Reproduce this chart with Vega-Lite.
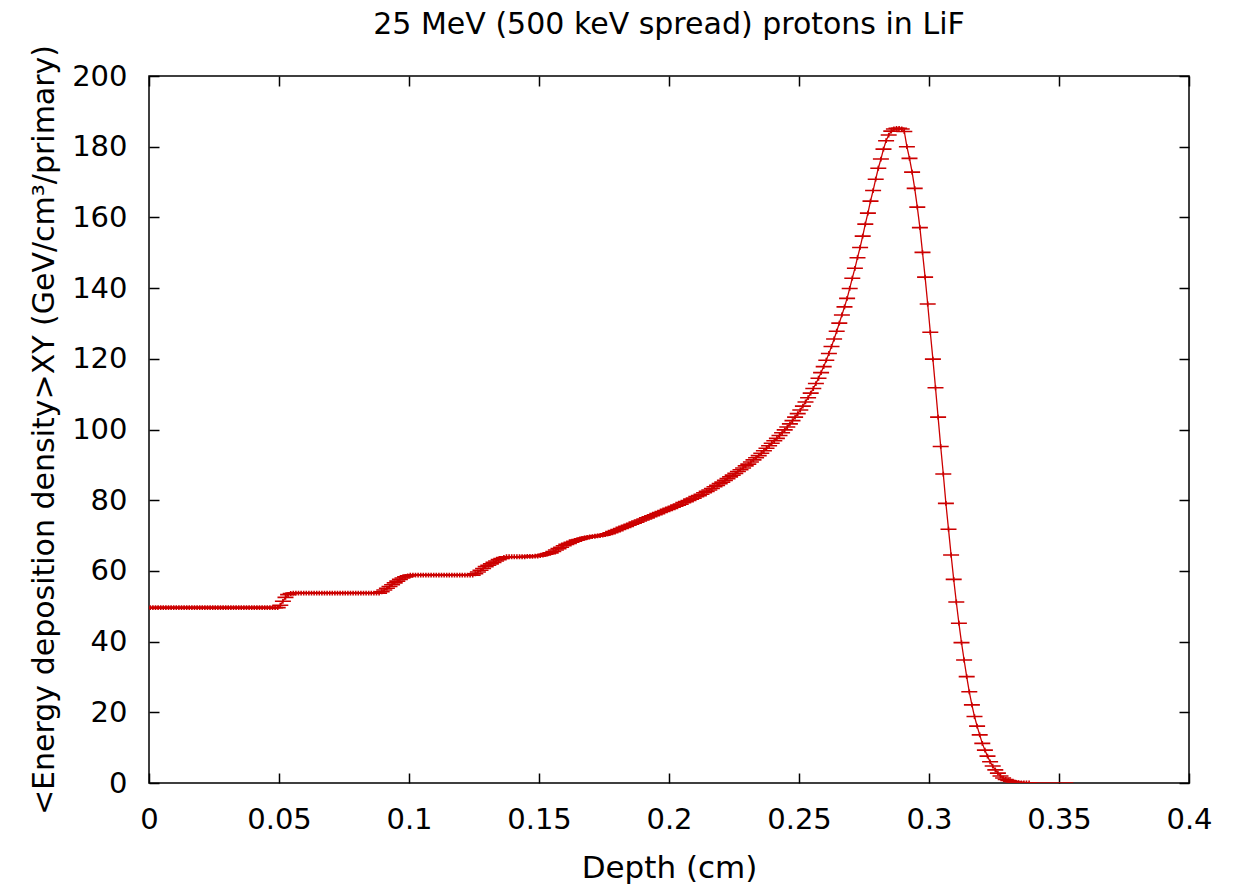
{
"$schema":"https://vega.github.io/schema/vega-lite/v6.json",
"width":1040,"height":707,
"autosize":{"type":"none"},
"padding":{"left":149,"top":76,"right":48,"bottom":107},
"background":"white",
"config":{"font":"DejaVu Sans","view":{"stroke":"black","strokeWidth":1.5}},
"title":{"text":"25 MeV (500 keV spread) protons in LiF","fontSize":30,"fontWeight":"normal","font":"DejaVu Sans","color":"black","anchor":"middle","baseline":"alphabetic","offset":-20},
"data":{"values":[
{"d":0.0005,"e":49.6},{"d":0.0015,"e":49.6},{"d":0.0025,"e":49.6},{"d":0.0035,"e":49.6},{"d":0.0045,"e":49.6},{"d":0.0055,"e":49.6},{"d":0.0065,"e":49.6},{"d":0.0075,"e":49.6},{"d":0.0085,"e":49.6},{"d":0.0095,"e":49.6},
{"d":0.0105,"e":49.6},{"d":0.0115,"e":49.6},{"d":0.0125,"e":49.6},{"d":0.0135,"e":49.6},{"d":0.0145,"e":49.6},{"d":0.0155,"e":49.6},{"d":0.0165,"e":49.6},{"d":0.0175,"e":49.6},{"d":0.0185,"e":49.6},{"d":0.0195,"e":49.6},
{"d":0.0205,"e":49.6},{"d":0.0215,"e":49.6},{"d":0.0225,"e":49.6},{"d":0.0235,"e":49.6},{"d":0.0245,"e":49.6},{"d":0.0255,"e":49.6},{"d":0.0265,"e":49.6},{"d":0.0275,"e":49.6},{"d":0.0285,"e":49.6},{"d":0.0295,"e":49.6},
{"d":0.0305,"e":49.6},{"d":0.0315,"e":49.6},{"d":0.0325,"e":49.6},{"d":0.0335,"e":49.6},{"d":0.0345,"e":49.6},{"d":0.0355,"e":49.6},{"d":0.0365,"e":49.6},{"d":0.0375,"e":49.6},{"d":0.0385,"e":49.6},{"d":0.0395,"e":49.6},
{"d":0.0405,"e":49.6},{"d":0.0415,"e":49.6},{"d":0.0425,"e":49.6},{"d":0.0435,"e":49.6},{"d":0.0445,"e":49.6},{"d":0.0455,"e":49.6},{"d":0.0465,"e":49.6},{"d":0.0475,"e":49.6},{"d":0.0485,"e":49.6},{"d":0.0495,"e":49.6},
{"d":0.0505,"e":50.3},{"d":0.0515,"e":51.4},{"d":0.0525,"e":52.5},{"d":0.0535,"e":53.3},{"d":0.0545,"e":53.6},{"d":0.0555,"e":53.7},{"d":0.0565,"e":53.7},{"d":0.0575,"e":53.7},{"d":0.0585,"e":53.7},{"d":0.0595,"e":53.7},
{"d":0.0605,"e":53.7},{"d":0.0615,"e":53.7},{"d":0.0625,"e":53.7},{"d":0.0635,"e":53.7},{"d":0.0645,"e":53.7},{"d":0.0655,"e":53.7},{"d":0.0665,"e":53.7},{"d":0.0675,"e":53.7},{"d":0.0685,"e":53.7},{"d":0.0695,"e":53.7},
{"d":0.0705,"e":53.7},{"d":0.0715,"e":53.7},{"d":0.0725,"e":53.7},{"d":0.0735,"e":53.7},{"d":0.0745,"e":53.7},{"d":0.0755,"e":53.7},{"d":0.0765,"e":53.7},{"d":0.0775,"e":53.7},{"d":0.0785,"e":53.7},{"d":0.0795,"e":53.7},
{"d":0.0805,"e":53.7},{"d":0.0815,"e":53.7},{"d":0.0825,"e":53.7},{"d":0.0835,"e":53.7},{"d":0.0845,"e":53.7},{"d":0.0855,"e":53.7},{"d":0.0865,"e":53.7},{"d":0.0875,"e":53.7},{"d":0.0885,"e":53.7},{"d":0.0895,"e":54.1},
{"d":0.0905,"e":54.6},{"d":0.0915,"e":55.1},{"d":0.0925,"e":55.6},{"d":0.0935,"e":56.1},{"d":0.0945,"e":56.6},{"d":0.0955,"e":57.1},{"d":0.0965,"e":57.6},{"d":0.0975,"e":58.0},{"d":0.0985,"e":58.3},{"d":0.0995,"e":58.6},
{"d":0.1005,"e":58.8},{"d":0.1015,"e":58.8},{"d":0.1025,"e":58.8},{"d":0.1035,"e":58.8},{"d":0.1045,"e":58.8},{"d":0.1055,"e":58.8},{"d":0.1065,"e":58.8},{"d":0.1075,"e":58.8},{"d":0.1085,"e":58.8},{"d":0.1095,"e":58.8},
{"d":0.1105,"e":58.8},{"d":0.1115,"e":58.8},{"d":0.1125,"e":58.8},{"d":0.1135,"e":58.8},{"d":0.1145,"e":58.8},{"d":0.1155,"e":58.8},{"d":0.1165,"e":58.8},{"d":0.1175,"e":58.8},{"d":0.1185,"e":58.8},{"d":0.1195,"e":58.8},
{"d":0.1205,"e":58.8},{"d":0.1215,"e":58.8},{"d":0.1225,"e":58.8},{"d":0.1235,"e":58.8},{"d":0.1245,"e":58.8},{"d":0.1255,"e":59.2},{"d":0.1265,"e":59.7},{"d":0.1275,"e":60.2},{"d":0.1285,"e":60.7},{"d":0.1295,"e":61.2},
{"d":0.1305,"e":61.6},{"d":0.1315,"e":62.0},{"d":0.1325,"e":62.4},{"d":0.1335,"e":62.8},{"d":0.1345,"e":63.2},{"d":0.1355,"e":63.5},{"d":0.1365,"e":63.8},{"d":0.1375,"e":64.0},{"d":0.1385,"e":64.0},{"d":0.1395,"e":64.0},
{"d":0.1405,"e":64.0},{"d":0.1415,"e":64.0},{"d":0.1425,"e":64.0},{"d":0.1435,"e":64.0},{"d":0.1445,"e":64.0},{"d":0.1455,"e":64.1},{"d":0.1465,"e":64.1},{"d":0.1475,"e":64.1},{"d":0.1485,"e":64.2},{"d":0.1495,"e":64.2},
{"d":0.1505,"e":64.3},{"d":0.1515,"e":64.5},{"d":0.1525,"e":64.7},{"d":0.1535,"e":64.9},{"d":0.1545,"e":65.1},{"d":0.1555,"e":65.5},{"d":0.1565,"e":65.9},{"d":0.1575,"e":66.3},{"d":0.1585,"e":66.7},{"d":0.1595,"e":67.1},
{"d":0.1605,"e":67.5},{"d":0.1615,"e":67.8},{"d":0.1625,"e":68.1},{"d":0.1635,"e":68.4},{"d":0.1645,"e":68.7},{"d":0.1655,"e":68.9},{"d":0.1665,"e":69.1},{"d":0.1675,"e":69.3},{"d":0.1685,"e":69.5},{"d":0.1695,"e":69.6},
{"d":0.1705,"e":69.7},{"d":0.1715,"e":69.8},{"d":0.1725,"e":69.9},{"d":0.1735,"e":70.0},{"d":0.1745,"e":70.1},{"d":0.1755,"e":70.3},{"d":0.1765,"e":70.5},{"d":0.1775,"e":70.8},{"d":0.1785,"e":71.1},{"d":0.1795,"e":71.4},
{"d":0.1805,"e":71.7},{"d":0.1815,"e":72.0},{"d":0.1825,"e":72.3},{"d":0.1835,"e":72.6},{"d":0.1845,"e":72.9},{"d":0.1855,"e":73.2},{"d":0.1865,"e":73.5},{"d":0.1875,"e":73.8},{"d":0.1885,"e":74.1},{"d":0.1895,"e":74.4},
{"d":0.1905,"e":74.7},{"d":0.1915,"e":75.0},{"d":0.1925,"e":75.3},{"d":0.1935,"e":75.6},{"d":0.1945,"e":75.9},{"d":0.1955,"e":76.2},{"d":0.1965,"e":76.5},{"d":0.1975,"e":76.8},{"d":0.1985,"e":77.1},{"d":0.1995,"e":77.4},
{"d":0.2005,"e":77.7},{"d":0.2015,"e":78.0},{"d":0.2025,"e":78.3},{"d":0.2035,"e":78.6},{"d":0.2045,"e":78.9},{"d":0.2055,"e":79.3},{"d":0.2065,"e":79.6},{"d":0.2075,"e":79.9},{"d":0.2085,"e":80.3},{"d":0.2095,"e":80.6},
{"d":0.2105,"e":81.0},{"d":0.2115,"e":81.3},{"d":0.2125,"e":81.7},{"d":0.2135,"e":82.1},{"d":0.2145,"e":82.5},{"d":0.2155,"e":82.9},{"d":0.2165,"e":83.3},{"d":0.2175,"e":83.8},{"d":0.2185,"e":84.2},{"d":0.2195,"e":84.7},
{"d":0.2205,"e":85.1},{"d":0.2215,"e":85.6},{"d":0.2225,"e":86.1},{"d":0.2235,"e":86.6},{"d":0.2245,"e":87.1},{"d":0.2255,"e":87.6},{"d":0.2265,"e":88.1},{"d":0.2275,"e":88.6},{"d":0.2285,"e":89.1},{"d":0.2295,"e":89.7},
{"d":0.2305,"e":90.2},{"d":0.2315,"e":90.8},{"d":0.2325,"e":91.4},{"d":0.2335,"e":92.0},{"d":0.2345,"e":92.6},{"d":0.2355,"e":93.3},{"d":0.2365,"e":94.0},{"d":0.2375,"e":94.7},{"d":0.2385,"e":95.4},{"d":0.2395,"e":96.1},
{"d":0.2405,"e":96.8},{"d":0.2415,"e":97.5},{"d":0.2425,"e":98.3},{"d":0.2435,"e":99.1},{"d":0.2445,"e":99.9},{"d":0.2455,"e":100.7},{"d":0.2465,"e":101.6},{"d":0.2475,"e":102.5},{"d":0.2485,"e":103.5},{"d":0.2495,"e":104.5},
{"d":0.2505,"e":105.5},{"d":0.2515,"e":106.6},{"d":0.2525,"e":107.8},{"d":0.2535,"e":109.0},{"d":0.2545,"e":110.3},{"d":0.2555,"e":111.6},{"d":0.2565,"e":113.0},{"d":0.2575,"e":114.5},{"d":0.2585,"e":116.1},{"d":0.2595,"e":117.8},
{"d":0.2605,"e":119.6},{"d":0.2615,"e":121.5},{"d":0.2625,"e":123.5},{"d":0.2635,"e":125.6},{"d":0.2645,"e":127.8},{"d":0.2655,"e":130.1},{"d":0.2665,"e":132.4},{"d":0.2675,"e":134.7},{"d":0.2685,"e":137.1},{"d":0.2695,"e":139.9},
{"d":0.2705,"e":142.8},{"d":0.2715,"e":145.6},{"d":0.2725,"e":148.6},{"d":0.2735,"e":151.5},{"d":0.2745,"e":154.7},{"d":0.2755,"e":158.1},{"d":0.2765,"e":161.2},{"d":0.2775,"e":164.6},{"d":0.2785,"e":167.6},{"d":0.2795,"e":170.8},
{"d":0.2805,"e":173.9},{"d":0.2815,"e":176.5},{"d":0.2825,"e":179.3},{"d":0.2835,"e":181.7},{"d":0.2845,"e":183.3},{"d":0.2855,"e":184.4},{"d":0.2865,"e":185.0},{"d":0.2875,"e":185.2},{"d":0.2885,"e":185.2},{"d":0.2895,"e":185.0},
{"d":0.2905,"e":184.3},{"d":0.2915,"e":180.0},{"d":0.2925,"e":176.7},{"d":0.2935,"e":172.8},{"d":0.2945,"e":168.2},{"d":0.2955,"e":162.9},{"d":0.2965,"e":157.1},{"d":0.2975,"e":150.1},{"d":0.2985,"e":143.1},{"d":0.2995,"e":135.5},
{"d":0.3005,"e":127.5},{"d":0.3015,"e":119.9},{"d":0.3025,"e":111.8},{"d":0.3035,"e":103.5},{"d":0.3045,"e":95.2},{"d":0.3055,"e":87.4},{"d":0.3065,"e":79.1},{"d":0.3075,"e":71.8},{"d":0.3085,"e":64.5},{"d":0.3095,"e":57.6},
{"d":0.3105,"e":51.2},{"d":0.3115,"e":45.2},{"d":0.3125,"e":39.7},{"d":0.3135,"e":34.8},{"d":0.3145,"e":30.1},{"d":0.3155,"e":25.8},{"d":0.3165,"e":22.1},{"d":0.3175,"e":18.8},{"d":0.3185,"e":16.1},{"d":0.3195,"e":13.6},
{"d":0.3205,"e":11.2},{"d":0.3215,"e":9.3},{"d":0.3225,"e":7.6},{"d":0.3235,"e":6.0},{"d":0.3245,"e":4.8},{"d":0.3255,"e":3.7},{"d":0.3265,"e":2.8},{"d":0.3275,"e":2.0},{"d":0.3285,"e":1.4},{"d":0.3295,"e":1.0},
{"d":0.3305,"e":0.7},{"d":0.3315,"e":0.45},{"d":0.3325,"e":0.28},{"d":0.3335,"e":0.17},{"d":0.3345,"e":0.1},{"d":0.3355,"e":0.06},{"d":0.3365,"e":0.03},{"d":0.3375,"e":0.02},{"d":0.3385,"e":0.01},{"d":0.3395,"e":0},
{"d":0.3405,"e":0},{"d":0.3415,"e":0},{"d":0.3425,"e":0},{"d":0.3435,"e":0},{"d":0.3445,"e":0},{"d":0.3455,"e":0},{"d":0.3465,"e":0},{"d":0.3475,"e":0},{"d":0.3485,"e":0},{"d":0.3495,"e":0},
{"d":0.3505,"e":0},{"d":0.3515,"e":0},{"d":0.3525,"e":0},{"d":0.3535,"e":0},{"d":0.3545,"e":0},{"d":0.3555,"e":0}
]},
"layer":[
{"mark":{"type":"line","color":"#cc0000","strokeWidth":1.3,"clip":true},
 "encoding":{
  "x":{"field":"d","type":"quantitative","scale":{"domain":[0,0.4],"nice":false,"zero":false},
   "axis":{"orient":"bottom","values":[0,0.05,0.1,0.15,0.2,0.25,0.3,0.35,0.4],"format":"~g","domain":false,"grid":false,"tickSize":-10,"tickColor":"black","tickWidth":1.5,"labelFontSize":29,"labelColor":"black","labelPadding":32,"labelFlush":false,"labelFont":"DejaVu Sans","title":"Depth (cm)","titleFontSize":31,"titleFontWeight":"normal","titleColor":"black","titleFont":"DejaVu Sans","titlePadding":19}},
  "y":{"field":"e","type":"quantitative","scale":{"domain":[0,200],"nice":false},
   "axis":{"orient":"left","values":[0,20,40,60,80,100,120,140,160,180,200],"domain":false,"grid":false,"tickSize":-10,"tickColor":"black","tickWidth":1.5,"labelFontSize":29,"labelColor":"black","labelPadding":32,"labelFont":"DejaVu Sans","title":"<Energy deposition density>XY (GeV/cm³/primary)","titleFontSize":30,"titleFontWeight":"normal","titleColor":"black","titleFont":"DejaVu Sans","titlePadding":12}}
 }},
{"transform":[{"filter":"datum.e > 0"}],
 "mark":{"type":"point","shape":"M-1,0L1,0M0,-0.3L0,0.3","size":256,"filled":false,"stroke":"#cc0000","strokeWidth":1.6,"opacity":1,"clip":true},
 "encoding":{
  "x":{"field":"d","type":"quantitative","axis":{"orient":"top","values":[0,0.05,0.1,0.15,0.2,0.25,0.3,0.35,0.4],"labels":false,"labelPadding":0,"domain":false,"grid":false,"tickSize":-10,"tickColor":"black","tickWidth":1.5,"title":null}},
  "y":{"field":"e","type":"quantitative","axis":{"orient":"right","values":[0,20,40,60,80,100,120,140,160,180,200],"labels":false,"labelPadding":0,"domain":false,"grid":false,"tickSize":-10,"tickColor":"black","tickWidth":1.5,"title":null}}
 }}
],
"resolve":{"axis":{"x":"independent","y":"independent"}}
}
